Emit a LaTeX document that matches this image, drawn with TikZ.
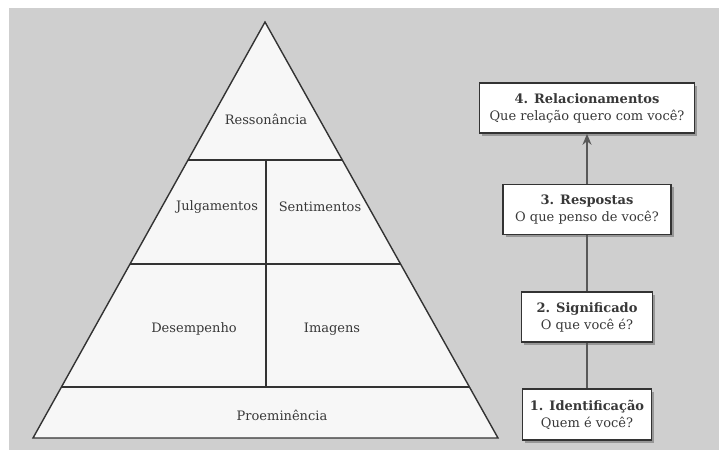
\documentclass[tikz,border=0pt]{standalone}
\usepackage{fontspec}
\setmainfont{DejaVu Serif}
\usetikzlibrary{calc,arrows.meta,shadows}
\definecolor{fundo}{gray}{0.81}
\definecolor{traco}{gray}{0.2}
\definecolor{texto}{gray}{0.22}
\tikzset{
  rotulo/.style={text=texto, font=\fontsize{13}{17}\selectfont},
  caixa/.style={draw=traco, line width=1.6pt, fill=white, align=center,
    inner sep=0pt, minimum height=50pt, text=texto,
    font=\fontsize{13}{17}\selectfont,
    drop shadow={shadow xshift=2.5pt, shadow yshift=-2.5pt, fill=black!55, opacity=0.6}},
  ligacao/.style={draw=black!65, line width=1.5pt}
}
\begin{document}
\begin{tikzpicture}[x=1pt,y=-1pt]
        \useasboundingbox (0,0) rectangle (719,450);
        \path[fill=fundo] (9,8) rectangle (719,450);
        \coordinate(T) at (265,22);
        \coordinate(BL) at (33,438);
        \coordinate(BR) at (498,438);
        \coordinate(M1) at (266,160);
        \coordinate(M2) at (266,387);

        % pyramid
        \path[draw=traco, line width=1.4pt, fill=black!3, line join=miter] (T) -- (BL) -- (BR) -- cycle;
        % levels
        \path[draw=traco, line width=1.4pt] ($(T)!0.332!(BL)$) -- ($(T)!0.332!(BR)$);
        \path[draw=traco, line width=1.4pt] ($(T)!0.582!(BL)$) -- ($(T)!0.582!(BR)$);
        \path[draw=traco, line width=1.4pt] ($(T)!0.877!(BL)$) -- ($(T)!0.877!(BR)$);
        \path[draw=traco, line width=1.4pt] (M1) -- (M2);

        % blocks
        \node[rotulo] (ress) at (266,119) {Ressonância};
        \node[rotulo] (julg) at (217,207) {Julgamentos};
        \node[rotulo] (sent) at (320,207) {Sentimentos};
        \node[rotulo] (dese) at (194,329) {Desempenho};
        \node[rotulo] (imag) at (332,329) {Imagens};
        \node[rotulo] (proe) at (282,415) {Proeminência};

        % steps
        \node[caixa, minimum width=129pt, minimum height=51pt] (ident) at (587,414.5) {\textbf{1. Identificação}\\Quem é você?};
        \node[caixa, minimum width=131pt] (signif) at (587,317) {\textbf{2. Significado}\\O que você é?};
        \node[caixa, minimum width=168pt] (resp) at (587,209.5) {\textbf{3. Respostas}\\O que penso de você?};
        \node[caixa, minimum width=215pt] (rel) at (587,108) {\textbf{4. Relacionamentos}\\Que relação quero com você?};

        \path[ligacao] (ident.north) -- (signif.south);
        \path[ligacao] (signif.north) -- (resp.south);
        \path[ligacao, -{Stealth[length=11pt,width=9pt]}] (resp.north) -- (rel.south);
\end{tikzpicture}
\end{document}
